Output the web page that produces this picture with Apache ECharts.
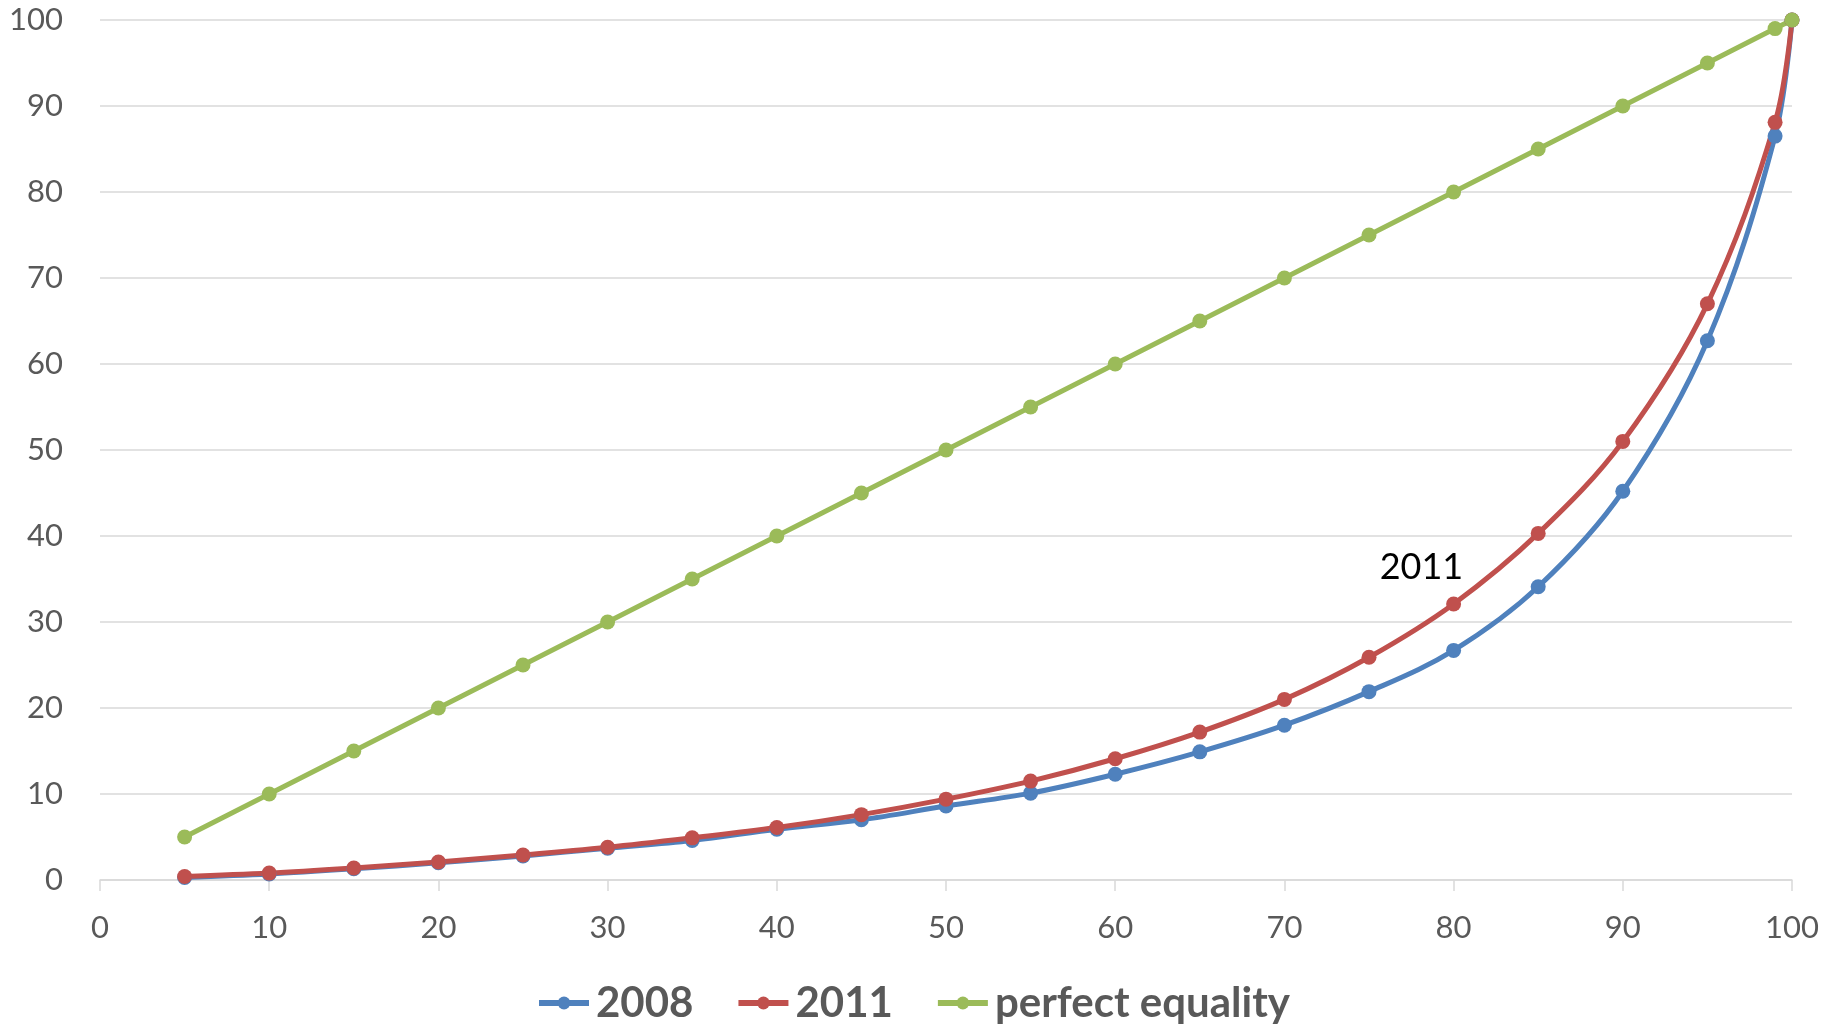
<!DOCTYPE html>
<html>
<head>
    <meta charset="utf-8">
    <title>Lorenz curve 2008 / 2011</title>
    <script src="https://cdn.jsdelivr.net/npm/echarts@6/dist/echarts.min.js"></script>
    <style>
        html, body {
            margin: 0;
            padding: 0;
            background: #fff;
        }
        #chart {
            width: 1837px;
            height: 1024px;
        }
    </style>
</head>
<body>
<div id="chart"></div>
<script>
    // cumulative population share (%)
    var xValues = [5, 10, 15, 20, 25, 30, 35, 40, 45, 50, 55, 60, 65, 70, 75, 80, 85, 90, 95, 99, 100];
    // cumulative income share (%)
    var y2008 = [0.3, 0.7, 1.3, 2.0, 2.8, 3.7, 4.6, 5.9, 7.0, 8.6, 10.1, 12.3, 14.9, 18.0, 21.9, 26.7, 34.1, 45.2, 62.7, 86.5, 100];
    var y2011 = [0.4, 0.8, 1.4, 2.1, 2.9, 3.8, 4.9, 6.1, 7.6, 9.4, 11.5, 14.1, 17.2, 21.0, 25.9, 32.1, 40.3, 51.0, 67.0, 88.1, 100];
    var yEquality = [5, 10, 15, 20, 25, 30, 35, 40, 45, 50, 55, 60, 65, 70, 75, 80, 85, 90, 95, 99, 100];
    var seriesNames = ['2008', '2011', 'perfect equality'];
    var seriesColors = ['#4F81BD', '#C0504D', '#9BBB59'];
    var note2011 = {text: '2011', x: 78.1, y: 36.4};

    function pairs(ys) {
        var out = [];
        for (var i = 0; i < xValues.length; i++) {
            out.push([xValues[i], ys[i]]);
        }
        return out;
    }

    var labelFont = 'Lato, "Open Sans", sans-serif';

    function lineSeries(idx, ys, smooth) {
        return {
            name: seriesNames[idx],
            type: 'line',
            data: pairs(ys),
            smooth: smooth,
            symbol: 'circle',
            symbolSize: 15,
            color: seriesColors[idx],
            lineStyle: {width: 5, color: seriesColors[idx]},
            itemStyle: {color: seriesColors[idx]},
            emphasis: {disabled: true}
        };
    }

    var chart = echarts.init(document.getElementById('chart'));
    var s2011 = lineSeries(1, y2011, 0.35);
    s2011.markPoint = {
        symbol: 'circle',
        symbolSize: 0,
        silent: true,
        data: [{coord: [note2011.x, note2011.y], value: note2011.text}],
        label: {
            show: true,
            position: 'inside',
            formatter: note2011.text,
            color: '#000',
            fontFamily: labelFont,
            fontSize: 36
        }
    };

    var option = {
        animation: false,
        backgroundColor: '#fff',
        grid: {
            left: 100,
            right: 45,
            top: 20,
            bottom: 144
        },
        legend: {
            data: seriesNames,
            left: 536,
            top: 982,
            padding: 0,
            itemWidth: 50,
            itemHeight: 16,
            itemGap: 42,
            lineStyle: {width: 6},
            textStyle: {
                fontFamily: labelFont,
                fontWeight: 'bold',
                fontSize: 42,
                color: '#595959',
                padding: [0, 0, 0, 2]
            }
        },
        xAxis: {
            type: 'value',
            min: 0,
            max: 100,
            interval: 10,
            axisLine: {show: true, lineStyle: {color: '#D9D9D9', width: 1.5}},
            axisTick: {show: true, length: 11, lineStyle: {color: '#D9D9D9', width: 1.5}},
            splitLine: {show: false},
            axisLabel: {
                margin: 32,
                color: '#595959',
                fontFamily: labelFont,
                fontSize: 31
            }
        },
        yAxis: {
            type: 'value',
            min: 0,
            max: 100,
            interval: 10,
            axisLine: {show: false},
            axisTick: {show: false},
            splitLine: {lineStyle: {color: '#D9D9D9', width: 1.5}},
            axisLabel: {
                margin: 37,
                color: '#595959',
                fontFamily: labelFont,
                fontSize: 31
            }
        },
        series: [
            lineSeries(0, y2008, 0.35),
            s2011,
            lineSeries(2, yEquality, false)
        ]
    };
    chart.setOption(option);
</script>
</body>
</html>
